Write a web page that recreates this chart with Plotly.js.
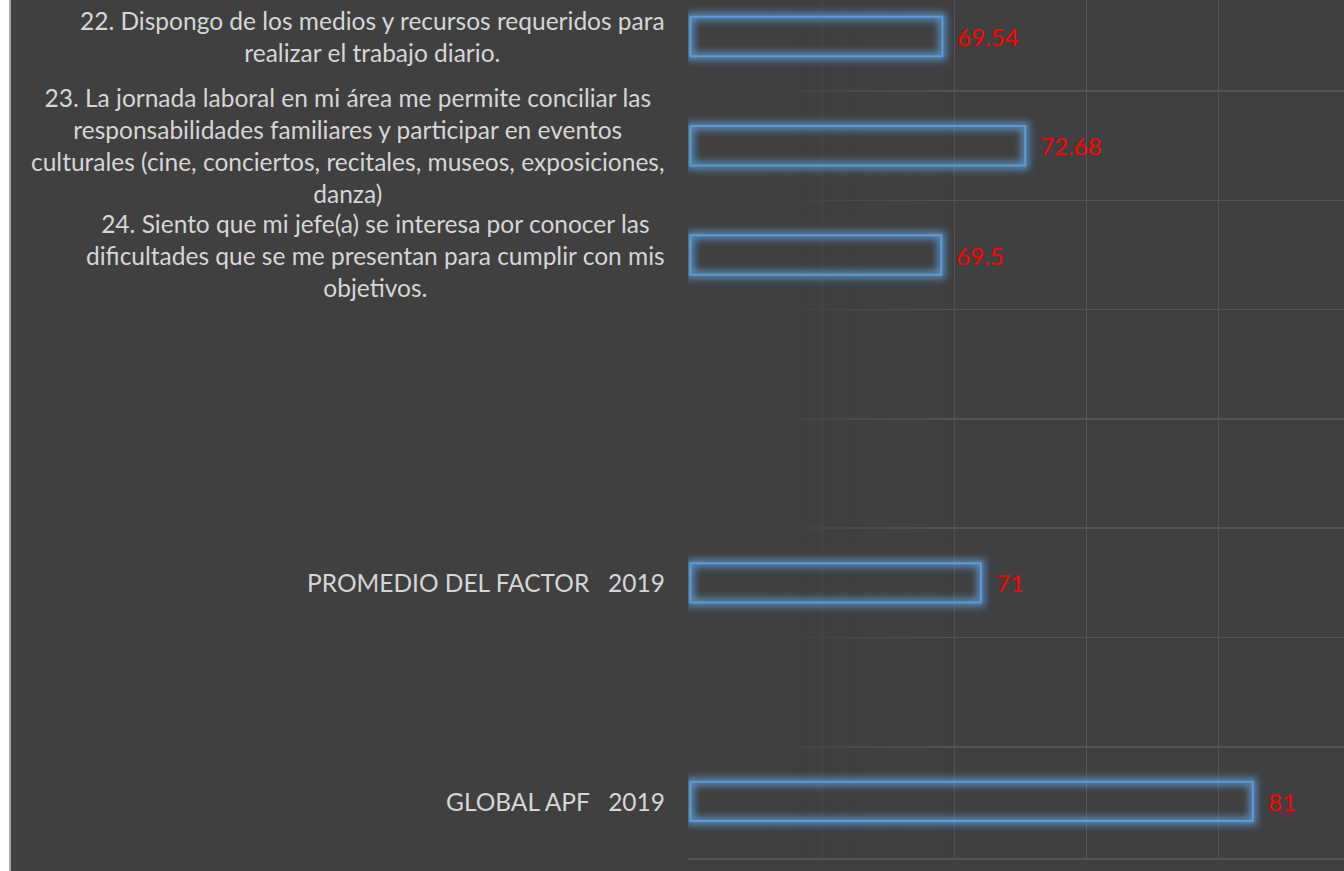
<!DOCTYPE html>
<html>
<head>
<meta charset="utf-8">
<script src="https://cdn.plot.ly/plotly-3.0.1.min.js"></script>
<style>
  html, body { margin: 0; padding: 0; background: #ffffff; width: 1344px; height: 871px; overflow: hidden; }
  #edge { position: absolute; left: 9px; top: 0; width: 2px; height: 871px; background: #a6a6a6; }
  #chart { position: absolute; left: 11px; top: 0; width: 1333px; height: 871px; }
</style>
</head>
<body>
<div id="edge"></div>
<div id="chart"></div>
<script>
// ---- data ----
const categories = [
  "22. Dispongo de los medios y recursos requeridos para<br>realizar el trabajo diario.",
  "23. La jornada laboral en mi área me permite conciliar las<br>responsabilidades familiares y participar en eventos<br>culturales (cine, conciertos, recitales, museos, exposiciones,<br>danza)",
  "24. Siento que mi jefe(a) se interesa por conocer las<br>dificultades que se me presentan para cumplir con mis<br>objetivos.",
  " ",
  "  ",
  "PROMEDIO DEL FACTOR &nbsp; 2019",
  "   ",
  "GLOBAL APF &nbsp; 2019"
];
const barCategories = [categories[0], categories[1], categories[2], categories[5], categories[7]];
const values = [69.54, 72.68, 69.5, 71, 81.3];
const valueLabels = ["69.54", "72.68", "69.5", "71", "81"];
const axisMin = 60;

const BG = '#404040';
const GRID = '#545454';
const plotLeft = 677, plotW = 1333 - plotLeft;
const pxPerUnit = 26.4;
const xMin = axisMin - 2.5 / pxPerUnit;
const xMax = xMin + plotW / pxPerUnit;

const bars = {
  type: 'bar',
  orientation: 'h',
  base: axisMin,
  x: values.map(v => v - axisMin),
  y: barCategories,
  width: 0.36,
  marker: { color: 'rgba(0,0,0,0)', line: { color: '#5B9BD5', width: 2 } },
  hoverinfo: 'none',
  showlegend: false
};

const annotations = [];
categories.forEach(c => {
  if (c.trim() === '') return;
  annotations.push({
    xref: 'paper', yref: 'y', x: 0, y: c, text: c,
    xanchor: 'right', yanchor: 'middle', align: 'center', valign: 'middle',
    xshift: -21, showarrow: false,
    font: { family: 'Lato, "Open Sans", sans-serif', size: 24.5, color: '#D6D6D6' }
  });
});
values.forEach((v, i) => {
  annotations.push({
    xref: 'x', yref: 'y', x: v, y: barCategories[i], text: valueLabels[i],
    xanchor: 'left', yanchor: 'middle', xshift: 13, showarrow: false,
    font: { family: 'Lato, "Open Sans", sans-serif', size: 24, color: '#FF0000' }
  });
});

// fade overlay for gridlines near the left of the plot (styling only, between grid and traces)
const shapes = [];
const fadeStart = 63, fadeEnd = 70, steps = 14;
shapes.push({ type: 'rect', xref: 'x', yref: 'y', x0: xMin - 1, x1: fadeStart, y0: -2, y1: 9,
  fillcolor: BG, line: { width: 0 }, layer: 'between' });
for (let j = 0; j < steps; j++) {
  shapes.push({ type: 'rect', xref: 'x', yref: 'y',
    x0: fadeStart + (fadeEnd - fadeStart) * j / steps, x1: fadeStart + (fadeEnd - fadeStart) * (j + 1) / steps,
    y0: -2, y1: 9,
    fillcolor: BG, opacity: 1 - (j + 0.5) / steps, line: { width: 0 }, layer: 'between' });
}

const layout = {
  width: 1333, height: 871,
  paper_bgcolor: BG, plot_bgcolor: BG,
  margin: { l: plotLeft, r: 0, t: 0, b: 13, pad: 0 },
  xaxis: {
    range: [xMin, xMax], tick0: 0, dtick: 5, showgrid: true, gridcolor: GRID, gridwidth: 1.5,
    showticklabels: false, ticks: '', zeroline: false,
    showline: true, linecolor: GRID, linewidth: 1.5, fixedrange: true
  },
  yaxis: {
    type: 'category', categoryorder: 'array', categoryarray: categories,
    range: [7.518, -0.334], tickson: 'boundaries', showgrid: true, gridcolor: GRID, gridwidth: 1.5,
    showticklabels: false, ticks: '', zeroline: false, showline: false, fixedrange: true
  },
  annotations: annotations,
  shapes: shapes,
  showlegend: false
};

Plotly.newPlot('chart', [bars], layout, { displayModeBar: false, staticPlot: true }).then(gd => {
  const svg = gd.querySelector('svg.main-svg');
  const ns = 'http://www.w3.org/2000/svg';
  const defs = document.createElementNS(ns, 'defs');
  defs.innerHTML =
    '<filter id="barglow" x="-10%" y="-80%" width="120%" height="260%">' +
    '<feMorphology operator="dilate" radius="3" in="SourceAlpha" result="d"/>' +
    '<feGaussianBlur in="d" stdDeviation="3.5" result="b"/>' +
    '<feFlood flood-color="#5B9BD5" flood-opacity="0.8"/>' +
    '<feComposite in2="b" operator="in" result="g"/>' +
    '<feMerge><feMergeNode in="g"/><feMergeNode in="SourceGraphic"/></feMerge>' +
    '</filter>';
  svg.insertBefore(defs, svg.firstChild);
  gd.querySelectorAll('.barlayer .point path').forEach(p => p.setAttribute('filter', 'url(#barglow)'));
});
</script>
</body>
</html>
